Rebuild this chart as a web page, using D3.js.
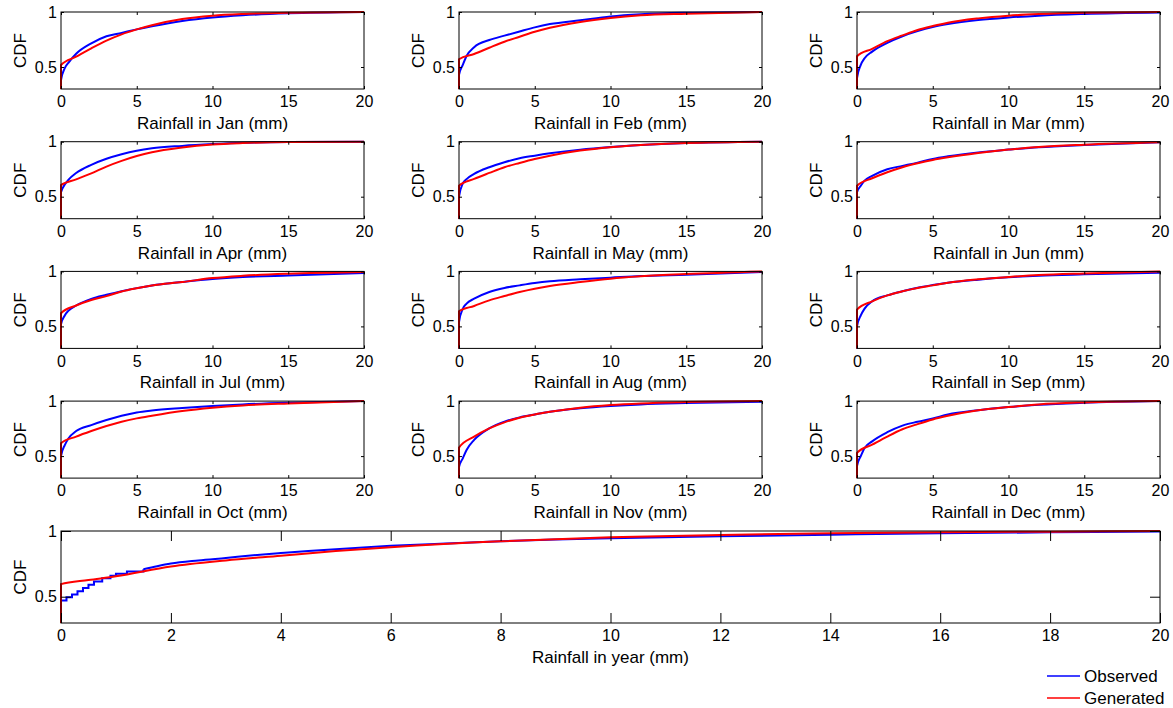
<!DOCTYPE html>
<html>
<head>
<meta charset="utf-8">
<script src="https://cdn.jsdelivr.net/npm/d3@7"></script>
<style>
  body { margin: 0; background: #fff; }
  text { font-family: Arial, "Liberation Sans", sans-serif; fill: #000; }
</style>
</head>
<body>
<svg id="chart"></svg>
<script>
// month names for the 12 small panels
var months = ["Jan", "Feb", "Mar", "Apr", "May", "Jun", "Jul", "Aug", "Sep", "Oct", "Nov", "Dec"];

// x positions (mm) where the curves were read
var obsX = [0, 0.25, 0.5, 1, 2, 3, 4, 5, 6, 8, 10, 12, 15, 20];
var genX = [0, 1, 2, 3, 4, 5, 6, 8, 10, 12, 15, 20];

// observed CDF, one row per month (values at obsX)
var obsMonthly = [
  [0.38, 0.49, 0.54, 0.62, 0.715, 0.78, 0.81, 0.842, 0.87, 0.918, 0.95, 0.97, 0.988, 1],
  [0.43, 0.52, 0.60, 0.68, 0.745, 0.785, 0.823, 0.86, 0.89, 0.925, 0.96, 0.98, 0.993, 1],
  [0.40, 0.52, 0.58, 0.64, 0.72, 0.78, 0.826, 0.863, 0.89, 0.927, 0.95, 0.967, 0.982, 0.995],
  [0.54, 0.61, 0.655, 0.715, 0.79, 0.845, 0.886, 0.918, 0.94, 0.962, 0.978, 0.99, 0.997, 1],
  [0.50, 0.62, 0.66, 0.707, 0.768, 0.813, 0.85, 0.873, 0.894, 0.928, 0.952, 0.97, 0.988, 1],
  [0.54, 0.60, 0.646, 0.69, 0.75, 0.78, 0.81, 0.843, 0.867, 0.903, 0.928, 0.95, 0.97, 0.994],
  [0.52, 0.60, 0.644, 0.69, 0.75, 0.787, 0.82, 0.848, 0.872, 0.903, 0.93, 0.948, 0.963, 0.985],
  [0.54, 0.66, 0.707, 0.752, 0.813, 0.85, 0.873, 0.894, 0.91, 0.928, 0.943, 0.958, 0.97, 0.994],
  [0.50, 0.60, 0.662, 0.728, 0.782, 0.82, 0.852, 0.876, 0.897, 0.925, 0.946, 0.961, 0.973, 0.988],
  [0.50, 0.60, 0.662, 0.728, 0.782, 0.828, 0.867, 0.897, 0.915, 0.937, 0.955, 0.97, 0.985, 1],
  [0.40, 0.48, 0.556, 0.647, 0.752, 0.813, 0.852, 0.879, 0.903, 0.934, 0.955, 0.97, 0.982, 0.994],
  [0.41, 0.50, 0.574, 0.634, 0.717, 0.777, 0.812, 0.842, 0.878, 0.917, 0.946, 0.967, 0.985, 1]
];

// generated CDF, one row per month (values at genX)
var genMonthly = [
  [0.518, 0.594, 0.67, 0.74, 0.797, 0.842, 0.88, 0.936, 0.966, 0.982, 0.994, 1],
  [0.57, 0.618, 0.675, 0.73, 0.775, 0.82, 0.857, 0.91, 0.946, 0.97, 0.985, 1],
  [0.598, 0.665, 0.735, 0.787, 0.836, 0.872, 0.903, 0.942, 0.967, 0.982, 0.994, 1],
  [0.605, 0.657, 0.712, 0.774, 0.826, 0.87, 0.905, 0.948, 0.975, 0.988, 0.997, 1],
  [0.60, 0.662, 0.716, 0.768, 0.807, 0.843, 0.873, 0.919, 0.95, 0.97, 0.988, 1],
  [0.60, 0.668, 0.722, 0.768, 0.804, 0.834, 0.858, 0.897, 0.928, 0.952, 0.973, 0.995],
  [0.62, 0.69, 0.74, 0.775, 0.817, 0.847, 0.872, 0.903, 0.939, 0.96, 0.979, 0.995],
  [0.638, 0.686, 0.737, 0.776, 0.813, 0.843, 0.867, 0.903, 0.934, 0.955, 0.976, 1],
  [0.653, 0.728, 0.782, 0.819, 0.849, 0.873, 0.897, 0.928, 0.949, 0.967, 0.982, 1],
  [0.617, 0.677, 0.728, 0.774, 0.813, 0.843, 0.867, 0.91, 0.94, 0.961, 0.979, 1],
  [0.577, 0.677, 0.752, 0.807, 0.849, 0.879, 0.903, 0.94, 0.964, 0.979, 0.991, 1],
  [0.529, 0.604, 0.678, 0.744, 0.791, 0.833, 0.866, 0.917, 0.946, 0.97, 0.988, 1]
];

// whole-year panel: the small steps near zero, then the rest of the curve
var yearStepX = [0, 0.1, 0.2, 0.3, 0.4, 0.5, 0.6, 0.75, 0.9, 1, 1.2, 1.5];
var yearStep = [0.471, 0.496, 0.516, 0.541, 0.566, 0.591, 0.616, 0.641, 0.659, 0.674, 0.691, 0.709];
var yearObsX = [1.5, 1.75, 2, 2.5, 3, 3.5, 4, 4.5, 5, 6, 7, 8, 9, 10, 12, 14, 16, 18, 20];
var yearObs = [0.709, 0.732, 0.752, 0.776, 0.795, 0.815, 0.832, 0.848, 0.862, 0.887, 0.905, 0.922, 0.935, 0.945, 0.96, 0.972, 0.982, 0.99, 0.997];
var yearGenX = [0, 0.5, 1, 2, 3, 4, 5, 6, 8, 10, 12, 14, 16, 18, 20];
var yearGen = [0.596, 0.627, 0.655, 0.73, 0.776, 0.812, 0.848, 0.877, 0.922, 0.952, 0.97, 0.982, 0.99, 0.995, 1];

var monthTicks = [0, 5, 10, 15, 20];
var yearTicks = [0, 2, 4, 6, 8, 10, 12, 14, 16, 18, 20];
var yTicks = [0.5, 1];
var legendNames = ["Observed", "Generated"];
var legendColors = ["#0000ff", "#ff0000"];

var width = 1173, height = 708;
var svg = d3.select("#chart").attr("width", width).attr("height", height);

function pairs(xs, ys) {
  return xs.map(function(x, j) { return [x, ys[j]]; });
}

var panels = months.map(function(m, i) {
  return {
    label: "Rainfall in " + m + " (mm)",
    left: 61 + (i % 3) * 398, top: 12 + Math.floor(i / 3) * 129.7,
    w: 303, h: 77, ticks: monthTicks, tickLen: 3,
    steps: null,
    obs: pairs(obsX, obsMonthly[i]),
    gen: pairs(genX, genMonthly[i])
  };
});
panels.push({
  label: "Rainfall in year (mm)",
  left: 61, top: 531, w: 1099, h: 92, ticks: yearTicks, tickLen: 10,
  steps: pairs(yearStepX, yearStep),
  obs: pairs(yearObsX, yearObs),
  gen: pairs(yearGenX, yearGen)
});

panels.forEach(function(p, i) {
  var g = svg.append("g").attr("transform", "translate(" + p.left + "," + p.top + ")");
  var x = d3.scaleLinear().domain([0, 20]).range([0, p.w]);
  var y = d3.scaleLinear().domain([0.3, 1]).range([p.h, 0]);

  var clipId = "clip" + i;
  g.append("clipPath").attr("id", clipId)
    .append("rect").attr("x", -1).attr("y", -2).attr("width", p.w + 2).attr("height", p.h + 2);

  // curves start at 0 on the x=0 line, clipped to the box
  var line = d3.line().x(function(d) { return x(d[0]); }).y(function(d) { return y(d[1]); });
  var curves = g.append("g").attr("clip-path", "url(#" + clipId + ")");
  if (p.steps) {
    curves.append("path")
      .datum([[0, 0]].concat(p.steps))
      .attr("d", line.curve(d3.curveStepAfter))
      .attr("fill", "none").attr("stroke", legendColors[0]).attr("stroke-width", 2);
  } else {
    p.obs = [[0, 0]].concat(p.obs);
  }
  curves.append("path")
    .datum(p.obs)
    .attr("d", line.curve(d3.curveMonotoneX))
    .attr("fill", "none").attr("stroke", legendColors[0]).attr("stroke-width", 2);
  curves.append("path")
    .datum([[0, 0]].concat(p.gen))
    .attr("d", line.curve(d3.curveMonotoneX))
    .attr("fill", "none").attr("stroke", legendColors[1]).attr("stroke-width", 2);

  // axes, ticks pointing inward
  var xb = g.append("g").attr("transform", "translate(0," + p.h + ")")
    .call(d3.axisBottom(x).tickValues(p.ticks).tickSize(-p.tickLen).tickPadding(7).tickFormat(d3.format("d")));
  var xt = g.append("g")
    .call(d3.axisTop(x).tickValues(p.ticks).tickSize(-p.tickLen).tickFormat(""));
  var yl = g.append("g")
    .call(d3.axisLeft(y).tickValues(yTicks).tickSize(-p.tickLen).tickPadding(4).tickFormat(d3.format("~g")));
  var yr = g.append("g").attr("transform", "translate(" + p.w + ",0)")
    .call(d3.axisRight(y).tickValues(yTicks).tickSize(-p.tickLen).tickFormat(""));
  [xb, xt, yl, yr].forEach(function(a) {
    a.select(".domain").remove();
    a.selectAll("line").attr("stroke", "#000");
    a.selectAll("text").style("font-size", "16px").attr("font-family", null);
  });

  g.append("rect").attr("width", p.w).attr("height", p.h)
    .attr("fill", "none").attr("stroke", "#000").attr("stroke-width", 1);

  g.append("text")
    .attr("x", p.w / 2).attr("y", p.h + 40)
    .attr("text-anchor", "middle").style("font-size", "17px")
    .text(p.label);
  g.append("text")
    .attr("transform", "translate(-35," + (p.h / 2) + ") rotate(-90)")
    .attr("text-anchor", "middle").style("font-size", "17px")
    .text("CDF");
});

// legend
var legend = svg.append("g").attr("transform", "translate(1047,676)");
legendNames.forEach(function(name, i) {
  var row = legend.append("g").attr("transform", "translate(0," + i * 22 + ")");
  row.append("line").attr("x1", 0).attr("x2", 33).attr("stroke", legendColors[i]).attr("stroke-width", 1.5);
  row.append("text").attr("x", 37).attr("dy", "0.35em").style("font-size", "17px").text(name);
});
</script>
</body>
</html>
